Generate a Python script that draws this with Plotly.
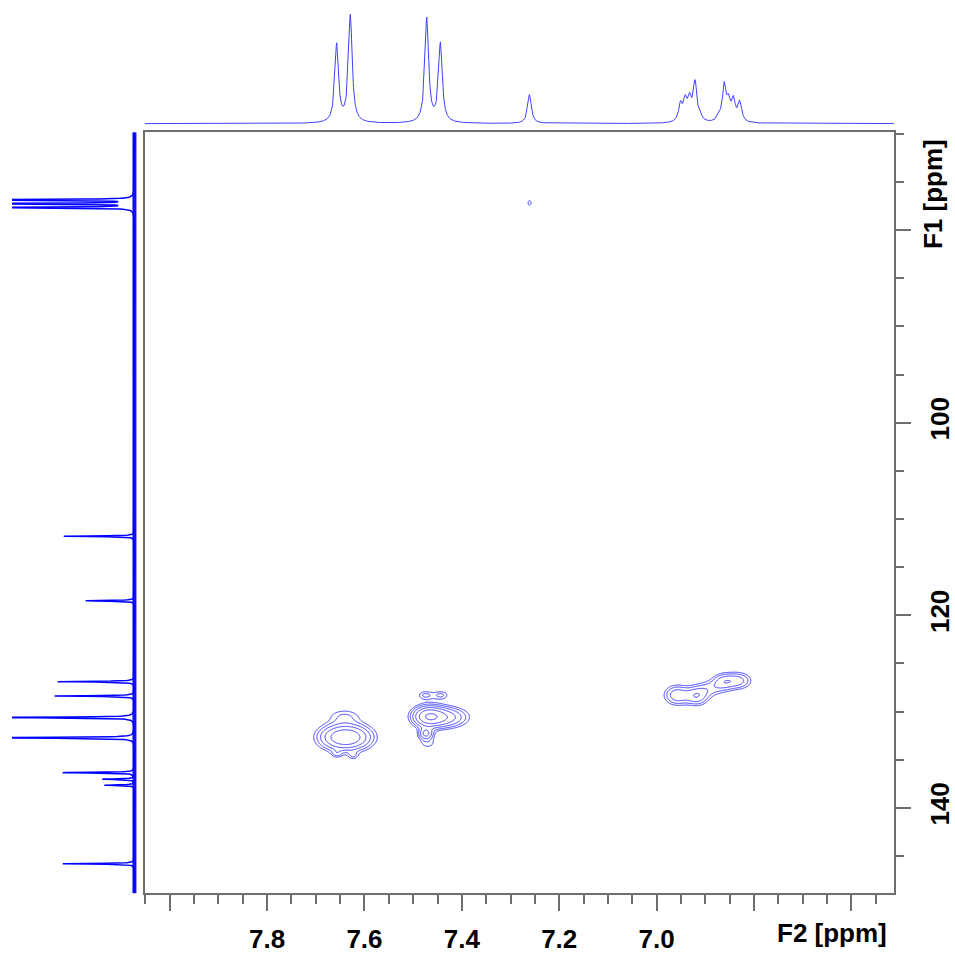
import numpy as np
import plotly.graph_objects as go

# ---------------- data ----------------
# 1H projection (F2): peak positions (ppm) and intensities (arb.)
h_ppm = [7.657, 7.629, 7.472, 7.444, 7.261,
         6.951, 6.941, 6.932, 6.921, 6.910,
         6.872, 6.861, 6.852, 6.842, 6.829]
h_int = [78.5, 108.0, 105.0, 79.5, 29.0,
         17.5, 20.0, 20.5, 39.0, 4.0,
         5.0, 36.0, 18.0, 21.0, 20.0]
h_hwhm = 0.0045

# 13C projection (F1): peak positions (ppm) and intensities (arb.)
c_ppm = [76.85, 77.25, 77.65, 111.79, 118.50, 126.90, 128.39,
         130.62, 132.73, 136.35, 137.03, 137.65, 145.81]
c_int = [200, 200, 200, 71, 49, 77, 80,
         200, 200, 72, 32, 30, 72]
c_hwhm = 0.04

# HSQC cross-peak components: F2 ppm, F1 ppm, amplitude, widths (ppm)
xp_f2 = [7.623, 7.655, 7.641, 7.657, 7.623,
         7.470, 7.438, 7.475, 7.443, 7.474, 7.470,
         6.958, 6.917, 6.862, 6.831, 6.890,
         7.261]
xp_f1 = [132.67, 132.67, 130.45, 134.40, 134.60,
         130.50, 130.60, 128.30, 128.30, 132.30, 133.30,
         128.30, 128.40, 126.90, 126.80, 127.60,
         77.17]
xp_amp = [0.44, 0.44, 0.14, 0.12, 0.12,
          0.55, 0.45, 0.16, 0.16, 0.35, 0.12,
          0.30, 0.30, 0.25, 0.25, 0.15,
          0.12]
xp_sx = [0.028, 0.028, 0.025, 0.008, 0.008,
         0.020, 0.031, 0.012, 0.012, 0.010, 0.015,
         0.018, 0.016, 0.016, 0.018, 0.020,
         0.005]
xp_sy = [0.86, 0.86, 0.55, 0.30, 0.30,
         0.70, 0.70, 0.35, 0.35, 0.40, 0.50,
         0.70, 0.65, 0.60, 0.60, 0.60,
         0.40]
# local windows for contouring: (f2 min, f2 max, f1 min, f1 max)
windows = [(7.53, 7.75, 127.5, 137.5),
           (7.35, 7.56, 126.5, 135.5),
           (6.77, 7.03, 123.5, 131.5),
           (7.245, 7.277, 76.0, 78.4)]
contour_base = 0.1
contour_factor = 1.5

# axis ticks
x_major = [8.0, 7.8, 7.6, 7.4, 7.2, 7.0, 6.8, 6.6]
x_labels = ["", "7.8", "7.6", "7.4", "7.2", "7.0", "", ""]
y_major = [80, 100, 120, 140]
y_labels = ["", "100", "120", "140"]
x_range = [8.051, 6.513]
y_range = [148.88, 69.84]

# ---------------- computation ----------------
W, H = 955, 954
BLUE = "#3c3cff"


def lorentz_sum(grid, centers, heights, hw):
    g = np.asarray(grid)[:, None]
    c = np.asarray(centers)[None, :]
    h = np.asarray(heights)[None, :]
    return (h / (1.0 + ((g - c) / hw) ** 2)).sum(axis=1)


hx = np.union1d(np.arange(6.50, 8.06, 0.0005), h_ppm)
hy = lorentz_sum(hx, h_ppm, h_int, h_hwhm)

cy_grid = np.union1d(np.arange(69.5, 149.5, 0.02), c_ppm)
cx_val = lorentz_sum(cy_grid, c_ppm, c_int, c_hwhm)

fig = go.Figure()

# main frame domain
xd = [145.5 / W, 897.5 / W]
yd = [1 - 898 / H, 1 - 133 / H]

for (x0, x1, y0, y1) in windows:
    gx = np.arange(x0, x1, 0.0012 if x1 - x0 > 0.05 else 0.0004)
    gy = np.arange(y0, y1, 0.06 if y1 - y0 > 3 else 0.02)
    X, Y = np.meshgrid(gx, gy)
    Z = np.zeros_like(X)
    for a, b, amp, sx, sy in zip(xp_f2, xp_f1, xp_amp, xp_sx, xp_sy):
        Z += amp * np.exp(-0.5 * (((X - a) / sx) ** 2 + ((Y - b) / sy) ** 2))
    Zl = np.log10(Z + 1e-12)
    fig.add_trace(go.Contour(
        x=gx, y=gy, z=Zl, xaxis="x", yaxis="y",
        contours=dict(coloring="lines", start=np.log10(contour_base),
                      end=0.0, size=np.log10(contour_factor)),
        colorscale=[[0, BLUE], [1, BLUE]], showscale=False,
        line=dict(width=1), hoverinfo="skip"))

# top 1H projection
fig.add_trace(go.Scatter(x=hx, y=hy, mode="lines", xaxis="x", yaxis="y2",
                         line=dict(color="#4040ff", width=1), hoverinfo="skip"))

# left 13C projection: baseline band + peaks
fig.add_trace(go.Scatter(x=[0, 0], y=[y_range[1], y_range[0]], mode="lines",
                         xaxis="x3", yaxis="y",
                         line=dict(color="#1010ff", width=4), hoverinfo="skip"))
fig.add_trace(go.Scatter(x=cx_val, y=cy_grid, mode="lines", xaxis="x3", yaxis="y",
                         line=dict(color="#0000ff", width=1.5), hoverinfo="skip"))

GRAY = "#6e6e6e"
tickfont = dict(family="Liberation Sans, Arial", size=26, color="black", weight="bold")

fig.update_layout(
    width=W, height=H, margin=dict(l=0, r=0, t=0, b=0),
    paper_bgcolor="white", plot_bgcolor="white", showlegend=False,
    xaxis=dict(domain=xd, range=x_range, anchor="y",
               showgrid=False, zeroline=False,
               showline=True, linecolor=GRAY, linewidth=1.5, mirror=True,
               ticks="outside", ticklen=16, tickwidth=1.5, tickcolor=GRAY,
               tickmode="array", tickvals=x_major, ticktext=x_labels,
               tickfont=tickfont, ticklabelstandoff=6,
               minor=dict(ticks="outside", ticklen=9, tickwidth=1.5,
                          tickcolor=GRAY, dtick=0.05, tick0=0, showgrid=False)),
    yaxis=dict(domain=yd, range=y_range, anchor="x", side="right",
               showgrid=False, zeroline=False,
               showline=True, linecolor=GRAY, linewidth=1.5, mirror=True,
               ticks="outside", ticklen=16, tickwidth=1.5, tickcolor=GRAY,
               tickmode="array", tickvals=y_major, ticktext=y_labels,
               tickangle=-90, tickfont=tickfont, ticklabelstandoff=6,
               minor=dict(ticks="outside", ticklen=9, tickwidth=1.5,
                          tickcolor=GRAY, dtick=5, tick0=0, showgrid=False)),
    yaxis2=dict(domain=[1 - 128 / H, 1.0], range=[-3.7, 124.3], anchor="x",
                visible=False, fixedrange=True),
    xaxis3=dict(domain=[12 / W, 144 / W], range=[123, -9], anchor="y",
                visible=False),
    annotations=[
        dict(text="F2 [ppm]", x=836 / W, y=1 - 938 / H, xref="paper", yref="paper",
             showarrow=False, xanchor="center", yanchor="middle",
             font=dict(family="Liberation Sans, Arial", size=26, color="black",
                       weight="bold")),
        dict(text="F1 [ppm]", x=937 / W, y=1 - 195 / H, xref="paper", yref="paper",
             showarrow=False, xanchor="center", yanchor="middle", textangle=-90,
             font=dict(family="Liberation Sans, Arial", size=26, color="black",
                       weight="bold")),
    ],
)

fig.write_html("out.html")
